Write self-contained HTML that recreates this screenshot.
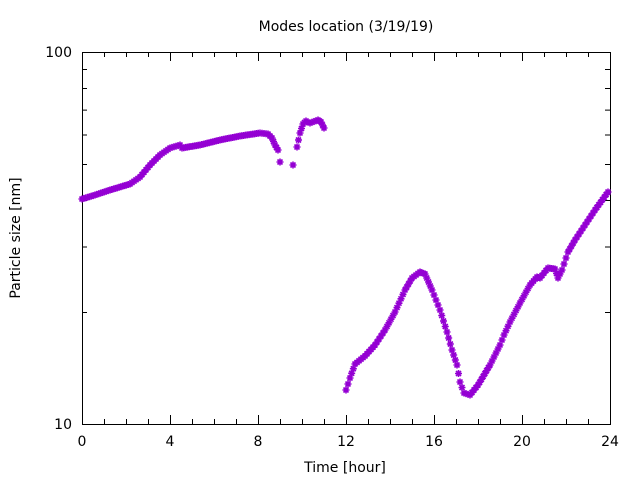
<!DOCTYPE html>
<html><head><meta charset="utf-8"><style>
body{margin:0;background:#fff;}
svg{display:block;font-family:"DejaVu Sans","Liberation Sans",sans-serif;}
</style></head><body>
<svg id="s" width="640" height="480" xmlns="http://www.w3.org/2000/svg">
<rect width="640" height="480" fill="#fff"/>
<text x="346" y="31" font-size="14" text-anchor="middle">Modes location (3/19/19)</text>
<text x="345" y="472" font-size="14" text-anchor="middle">Time [hour]</text>
<text transform="translate(20,238) rotate(-90)" font-size="14" text-anchor="middle">Particle size [nm]</text>
<text x="72" y="429" font-size="14" text-anchor="end">10</text>
<text x="72" y="57" font-size="14" text-anchor="end">100</text>
<g font-size="14" text-anchor="middle">
<text x="82" y="446">0</text><text x="170" y="446">4</text><text x="258" y="446">8</text>
<text x="346" y="446">12</text><text x="434" y="446">16</text><text x="522" y="446">20</text><text x="610" y="446">24</text>
</g>
<g id="ax" stroke="#000" stroke-width="1" fill="none"></g>
<g id="pts" stroke="#9400d3" stroke-width="1.6" fill="none"></g>
</svg>
<script>
var ax=document.getElementById('ax'),pts=document.getElementById('pts');
var h='<rect x="82.5" y="52.5" width="528" height="372"/>';
for(var i=0;i<=24;i++){var x=82.5+i*22,l=(i%4==0)?9:5;h+='<path d="M'+x+' 424V'+(424-l)+'M'+x+' 52V'+(52+l)+'"/>';}
for(var v=10;v<=100;v+=10){var y=424.5-372*Math.log10(v/10),l=(v==10||v==100)?9:5;h+='<path d="M82 '+y+'H'+(82+l)+'M610 '+y+'H'+(610-l)+'"/>';}
ax.innerHTML=h;
var segs=[
[[82,199],[95,195],[110,190],[130,184],[140,177],[150,165],[160,155],[170,148],[180,145],[182,148],[200,145],[220,140],[240,136],[260,133],[268,134],[272,138],[275,145],[278,150],[280,162]],
[[293,165],[294,160]],
[[297,147],[300,133],[303,124],[306,121],[310,123],[318,120],[321,122],[324,128]],
[[346,390],[350,378],[355,364],[365,356],[375,345],[385,330],[395,312],[405,290],[412,278],[420,272],[425,274],[432,290],[440,310],[447,332],[452,350],[457,365],[460,382],[464,393],[470,395],[478,385],[490,365],[500,345],[504,335],[510,322],[520,303],[530,285],[537,277],[540,278],[548,268],[555,269],[558,278],[562,270],[568,252],[575,240],[585,225],[595,210],[608,192]]
];
var s='';
function mk(x,y){s+='M'+(x-3.5)+' '+y+'h7M'+x+' '+(y-3.5)+'v7M'+(x-2.5)+' '+(y-2.5)+'l5 5M'+(x-2.5)+' '+(y+2.5)+'l5 -5';}
segs.forEach(function(g){
 if(g.length==2&&g[0][0]==293){mk(293,165);return;}
 for(var k=0;k<g.length-1;k++){var a=g[k],b=g[k+1];var n=Math.max(1,Math.round((b[0]-a[0])/1.83));
  for(var j=0;j<n;j++){var t=j/n;mk(a[0]+(b[0]-a[0])*t,a[1]+(b[1]-a[1])*t);}}
 var e=g[g.length-1];mk(e[0],e[1]);
});
pts.innerHTML='<path d="'+s+'"/>';
</script>
</body></html>
